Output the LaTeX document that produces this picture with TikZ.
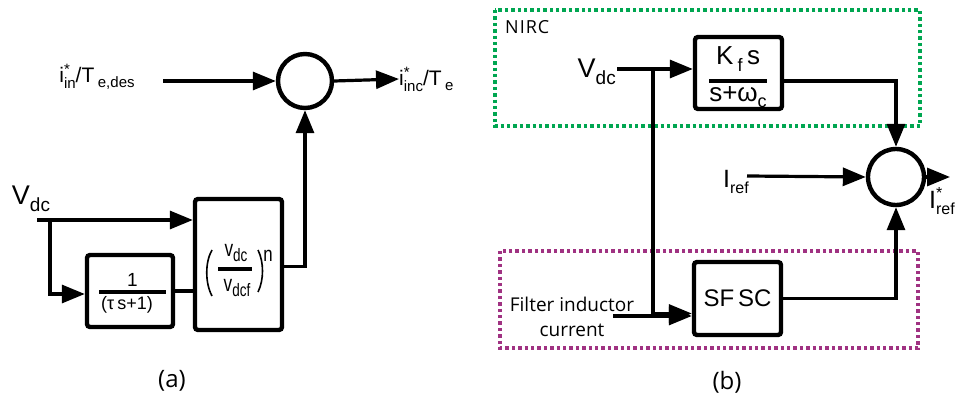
\documentclass[tikz,border=0pt]{standalone}
\usepackage{fontspec}
\setmainfont{Liberation Sans}
\newfontfamily\hum{Open Sans}
\usetikzlibrary{arrows.meta}
\newcommand{\fs}[1]{\fontsize{#1}{#1}\selectfont}
\newcommand{\sbx}[2]{\raisebox{-0.45ex}{\fs{#1}#2}}
\newcommand{\ssx}[3]{\rlap{\raisebox{0.75ex}{\fs{#1}#2}}\raisebox{-0.5ex}{\fs{#1}#3}}
\definecolor{nircgreen}{RGB}{0,166,81}
\definecolor{sfscpurple}{RGB}{160,50,130}
\begin{document}
\begin{tikzpicture}[x=1pt,y=-1pt,
  conn/.style={line width=3.2pt, -{Triangle[length=23pt,width=18pt]}},
  plain/.style={line width=3.2pt},
  blk/.style={draw, line width=4.4pt, rounded corners=3pt, inner sep=0pt},
  sumc/.style={draw, circle, line width=4.4pt, inner sep=0pt},
  lbl/.style={inner sep=0pt},
  frame/.style={line width=4pt, dash pattern=on 3.4pt off 3pt}
]
\useasboundingbox (0,0) rectangle (959,398);
% ---------------- (a)
\node[lbl] (inA) at (97,77) {\fs{21}i\ssx{15}{*}{in}/T\,\sbx{15}{e,des}};
\coordinate (inAs) at (163,81);
\node[sumc, minimum size=54pt] (sumA) at (305,81) {};
\node[lbl, anchor=west] (outA) at (399,79) {\fs{21}i\ssx{15}{*}{inc}/T\,\sbx{15}{e}};
\node[lbl] (vdcA) at (31,199) {\fs{27}V\sbx{19}{dc}};
\coordinate (vA) at (37,220);
\coordinate (brA) at (50,220);
\node[blk, minimum width=86pt, minimum height=72pt] (box1) at (130,291) {};
\node[blk, minimum width=87pt, minimum height=131pt] (box2) at (238.5,264.5) {};
% box1 content
\draw[line width=3.4pt] (99,292) -- (166,292);
\node[lbl] (b1n) at (132.5,280) {\fs{19}1};
\node[lbl] (b1d) at (127,305) {\fs{18}(τ\,s+1)};
% box2 content
\draw[line width=3.4pt] (218,269) -- (252,269);
\node[lbl] (b2n) at (236,253) {\scalebox{0.75}[1]{\fs{23}v\sbx{18}{dc}}};
\node[lbl] (b2d) at (237,288) {\scalebox{0.75}[1]{\fs{23}v\sbx{18}{dcf}}};
\draw[line width=1.6pt] (212,250) .. controls (205,262) and (205,283) .. (212,296);
\draw[line width=1.6pt] (258,250) .. controls (264,262) and (264,280) .. (258,292);
\node[lbl] (b2e) at (268,256) {\scalebox{0.8}[1]{\fs{21}n}};
% connectors (a)
\draw[conn] (inAs) -- (sumA.west);
\draw[conn] (sumA.east) -- (outA.west);
\draw[conn] (vA) -- (vA -| box2.west);
\draw[conn] (brA) |- ([yshift=-3pt]box1.west);
\draw[plain] (box1.east) -- (box1.east -| box2.west);
\draw[conn] ([yshift=-2pt]box2.east) -| (sumA.south);
\node[lbl] (capA) at (172,381) {\hum\fs{24}(a)};
% ---------------- (b)
\draw[frame, nircgreen] (495,10) rectangle (920,126);
\draw[frame, sfscpurple] (500,251) rectangle (918,348);
\node[lbl, anchor=west] (nirc) at (505,27) {\hum\fs{18}N\kern1pt I\kern1pt R\kern1pt C};
\node[lbl, anchor=east] (vdcB) at (616,72) {\fs{27}V\sbx{19}{dc}};
\coordinate (vB) at (617,69);
\coordinate (brB) at (653,69);
\node[blk, minimum width=87pt, minimum height=72pt] (kf) at (738.5,73) {};
\draw[line width=3.4pt] (709,81) -- (767,81);
\node[lbl] (kfn) at (738,59) {\fs{26}K\,\sbx{18}{f}\,s};
\node[lbl] (kfd) at (738,97) {\fs{26}s+ω\sbx{18}{c}};
\node[sumc, minimum size=56pt] (sumB) at (896,177) {};
\node[lbl] (iref) at (736,182) {\fs{25}I\sbx{16}{ref}};
\coordinate (irefs) at (747,176);
\coordinate (outB) at (950,177);
\node[lbl] (irefo) at (942,201) {\fs{25}I\ssx{16}{*}{ref}};
\node[blk, minimum width=87pt, minimum height=73pt, font=\fs{24}] (sfsc) at (737.5,298.5) {SF\,SC};
\node[lbl, align=center, font=\hum\fontsize{19}{25}\selectfont] (filt) at (572,317) {Filter inductor\\current};
\coordinate (filts) at (613,316);
% connectors (b)
\draw[conn] (vB) -- (vB -| kf.west);
\draw[conn] (brB) |- ([yshift=-15pt]sfsc.west);
\draw[conn] (filts) -- (filts -| sfsc.west);
\draw[conn] ([yshift=-8pt]kf.east) -| (sumB.north);
\draw[conn] (irefs) -- (sumB.west);
\draw[conn] (sumB.east) -- (outB);
\draw[conn] (sfsc.east) -| (sumB.south);
\node[lbl] (capB) at (727,382) {\hum\fs{24}(b)};
\end{tikzpicture}
\end{document}
